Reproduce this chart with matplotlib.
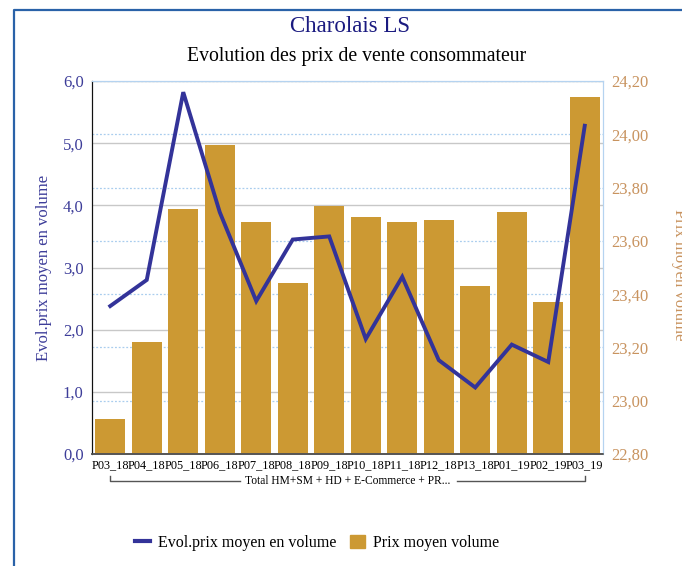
import matplotlib.pyplot as plt
from matplotlib.lines import Line2D
from matplotlib.patches import Patch
import numpy as np

periods = ["P03_18", "P04_18", "P05_18", "P06_18", "P07_18", "P08_18", "P09_18",
           "P10_18", "P11_18", "P12_18", "P13_18", "P01_19", "P02_19", "P03_19"]
evol_prix = [2.38, 2.80, 5.82, 3.89, 2.46, 3.45, 3.50,
             1.85, 2.85, 1.51, 1.07, 1.76, 1.48, 5.28]
prix_moyen = [22.93, 23.22, 23.72, 23.96, 23.67, 23.44, 23.73,
              23.69, 23.67, 23.68, 23.43, 23.71, 23.37, 24.14]
group_label = "Total HM+SM + HD + E-Commerce + PR..."

line_color = "#333399"
bar_color = "#CC9933"
left_tick_color = "#3d3d99"
right_tick_color = "#c8935f"
serif = ["Liberation Serif", "DejaVu Serif"]
plt.rcParams["font.family"] = serif

fig = plt.figure(figsize=(6.82, 5.66), dpi=100)
ax = fig.add_axes([92 / 682, 1 - 454 / 566, 511 / 682, 373 / 566])
ax2 = ax.twinx()

x = np.arange(len(periods))

# bars on the right axis, line on the left axis (line drawn on top)
ax2.bar(x, prix_moyen, width=0.82, color=bar_color, bottom=0, zorder=2)
ax2.set_ylim(22.80, 24.20)
ax.set_ylim(0, 6)
ax.set_xlim(-0.5, len(periods) - 0.5)

ax.set_zorder(ax2.get_zorder() + 1)
ax.patch.set_visible(False)
ax.plot(x, evol_prix, color=line_color, lw=2.8, zorder=5, solid_joinstyle="miter")

# grids
for v in np.arange(1, 6.01, 1):
    ax2.axhline(22.8 + v * 1.4 / 6, color="#c8c8c8", lw=1, zorder=1)
ax2.set_yticks(np.arange(22.8, 24.21, 0.2))
ax2.yaxis.grid(True, color="#a9cdee", ls=(0, (1.5, 1.5)), lw=0.9)
ax2.set_axisbelow(True)

ax.set_yticks(np.arange(0, 6.01, 1))
ax.set_yticklabels([f"{v:.1f}".replace(".", ",") for v in np.arange(0, 6.01, 1)],
                   color=left_tick_color, fontsize=12)
ax2.set_yticklabels([f"{v:.2f}".replace(".", ",") for v in np.arange(22.8, 24.21, 0.2)],
                    color=right_tick_color, fontsize=12)
ax.tick_params(axis="y", length=0, pad=6)
ax2.tick_params(axis="y", length=0, pad=6)

ax.set_xticks(x)
ax.set_xticklabels(periods, fontsize=8.8)
ax.tick_params(axis="x", length=0, pad=4)

for a in (ax, ax2):
    a.spines["top"].set_color("#b5d3f0")
    a.spines["right"].set_color("#b5d3f0")
    a.spines["left"].set_color("#111111")
    a.spines["bottom"].set_color("#555555")
    a.spines["bottom"].set_linewidth(1.2)

ax.set_ylabel("Evol.prix moyen en volume", color=left_tick_color, fontsize=12, labelpad=8)

# right axis label, clipped at the figure edge
fig.text(679 / 682, 1 - 275 / 566, "Prix moyen volume", rotation=-90,
         color=right_tick_color, fontsize=12, ha="center", va="center")

# titles
fig.text(350 / 682, 1 - 27 / 566, "Charolais LS", color="#1a1a80", fontsize=16.5,
         ha="center", va="center")
fig.text(357 / 682, 1 - 56 / 566, "Evolution des prix de vente consommateur",
         color="black", fontsize=14.2, ha="center", va="center")

# group bracket under the tick labels
ly = 1 - 481 / 566
tick_top = 1 - 476 / 566
fig.text(348 / 682, ly, group_label, fontsize=8.3, ha="center", va="center")
fig.add_artist(Line2D([110 / 682, 110 / 682, 240 / 682], [tick_top, ly, ly],
                      color="#555555", lw=1))
fig.add_artist(Line2D([457 / 682, 585 / 682, 585 / 682], [ly, ly, tick_top],
                      color="#555555", lw=1))

# frame of the figure
fig.add_artist(Line2D([14.5 / 682, 14.5 / 682, 1.0], [0, 1 - 10 / 566, 1 - 10 / 566],
                      color="#2a62a8", lw=1.6))

handles = [Line2D([0], [0], color=line_color, lw=3),
           Patch(color=bar_color)]
fig.legend(handles, ["Evol.prix moyen en volume", "Prix moyen volume"],
           loc="center", bbox_to_anchor=(317 / 682, 1 - 543 / 566), ncol=2,
           frameon=False, fontsize=11.5, handlelength=0.9, handleheight=0.9,
           columnspacing=0.9, handletextpad=0.5)

fig.savefig("out.png", dpi=100)
